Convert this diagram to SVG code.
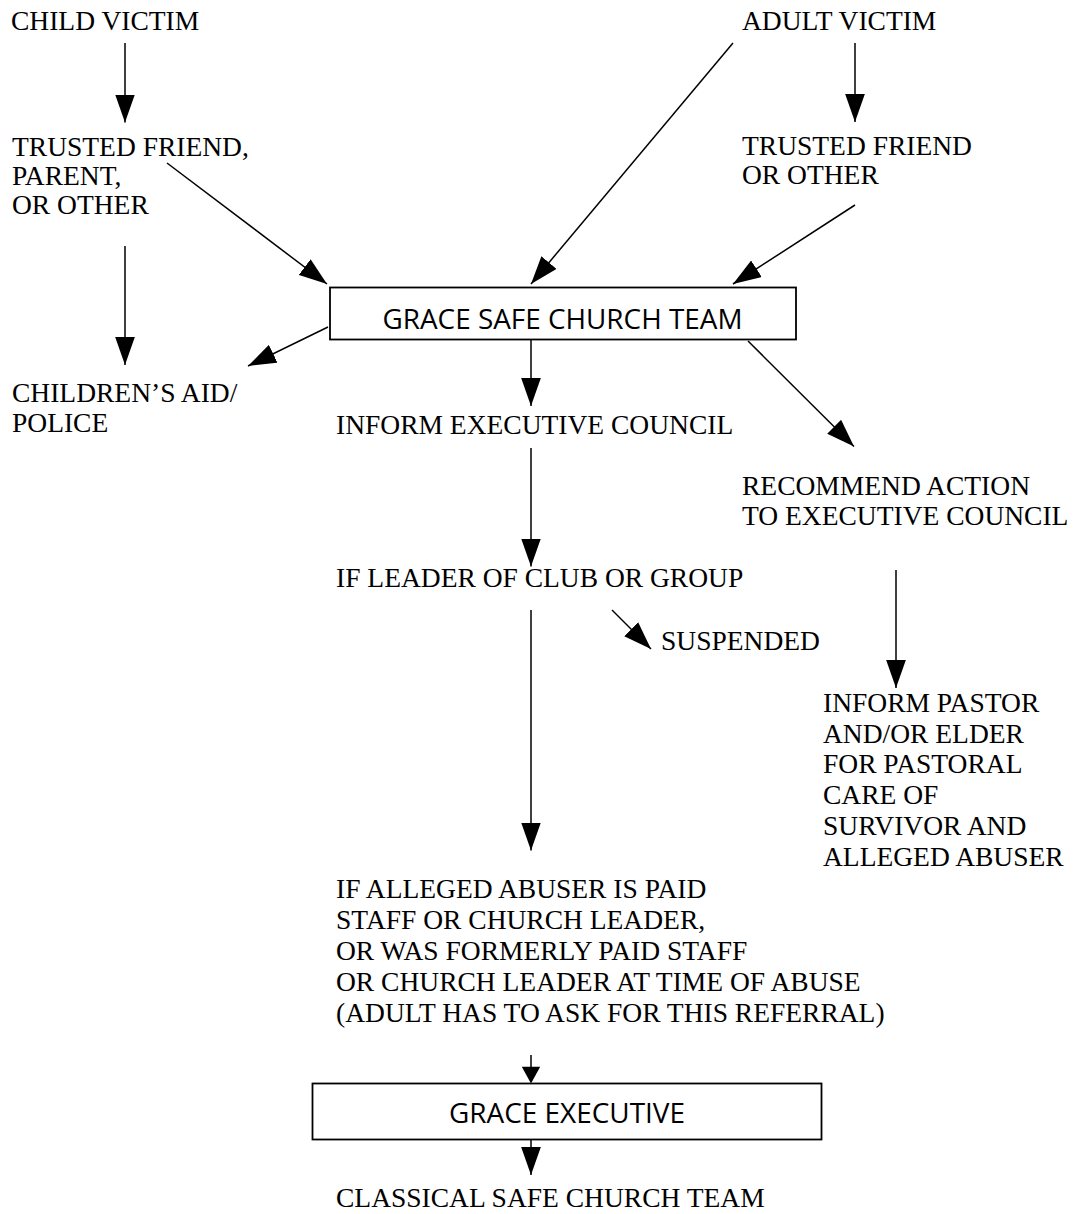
<svg xmlns="http://www.w3.org/2000/svg" width="1073" height="1214" viewBox="0 0 1073 1214">
<style>
  .t { font-family: "Liberation Serif", "Times New Roman", serif; font-size: 27.5px; fill: #000; }
  .s { font-family: "Open Sans", "Noto Sans", "Liberation Sans", sans-serif; font-size: 27.5px; fill: #000; text-anchor: middle; }
  .box { fill: #fff; stroke: #000; stroke-width: 1.8; }
  .ln { stroke: #000; stroke-width: 1.5; fill: none; marker-end: url(#ah); }
  .hd { fill: #000; }
</style>
<defs>
  <marker id="ah" markerUnits="userSpaceOnUse" markerWidth="28" markerHeight="20" viewBox="0 0 27 19" refX="27" refY="9.5" orient="auto">
    <path d="M0,0 L27,9.5 L0,19 z" fill="#000"/>
  </marker>
</defs>
<rect width="1073" height="1214" fill="#fff"/>

<g id="connectors">
  <line class="ln" x1="125" y1="43" x2="125" y2="122.5"/>
  <line class="ln" x1="855" y1="43" x2="855" y2="122"/>
  <line class="ln" x1="733" y1="43" x2="531" y2="284"/>
  <line class="ln" x1="167" y1="163" x2="327" y2="284"/>
  <line class="ln" x1="855" y1="205" x2="733" y2="284"/>
  <line class="ln" x1="125" y1="246" x2="125" y2="365"/>
  <line class="ln" x1="328" y1="327" x2="248" y2="366"/>
  <line class="ln" x1="531" y1="340" x2="531" y2="406"/>
  <line class="ln" x1="748" y1="341" x2="854" y2="446.5"/>
  <line class="ln" x1="531" y1="448" x2="531" y2="566.5"/>
  <line class="ln" x1="612" y1="610" x2="651" y2="649"/>
  <line class="ln" x1="531" y1="610" x2="531" y2="850.5"/>
  <line class="ln" x1="896" y1="570" x2="896" y2="688"/>
  <line stroke="#000" stroke-width="1.5" x1="531" y1="1055" x2="531" y2="1070"/>
  <polygon class="hd" points="521.8,1066.7 540.2,1066.7 531,1083.5"/>
  <line class="ln" x1="531" y1="1139.5" x2="531" y2="1175"/>
</g>

<g id="child-victim"><text class="t" x="11" y="29.5">CHILD VICTIM</text></g>
<g id="adult-victim"><text class="t" x="742" y="29.5">ADULT VICTIM</text></g>
<g id="trusted-friend-child">
  <text class="t" x="12" y="156">TRUSTED FRIEND,</text>
  <text class="t" x="12" y="185">PARENT,</text>
  <text class="t" x="12" y="213.5">OR OTHER</text>
</g>
<g id="trusted-friend-adult">
  <text class="t" x="742" y="154.5">TRUSTED FRIEND</text>
  <text class="t" x="742" y="183.5">OR OTHER</text>
</g>
<g id="grace-safe-church-team">
  <rect class="box" x="330" y="287.5" width="466" height="52"/>
  <text class="s" x="562.5" y="328.5" textLength="360" lengthAdjust="spacingAndGlyphs">GRACE SAFE CHURCH TEAM</text>
</g>
<g id="childrens-aid">
  <text class="t" x="12" y="401.5">CHILDREN’S AID/</text>
  <text class="t" x="12" y="431.5">POLICE</text>
</g>
<g id="inform-executive-council"><text class="t" x="336" y="434">INFORM EXECUTIVE COUNCIL</text></g>
<g id="recommend-action">
  <text class="t" x="742" y="495">RECOMMEND ACTION</text>
  <text class="t" x="742" y="525">TO EXECUTIVE COUNCIL</text>
</g>
<g id="if-leader"><text class="t" x="336" y="586.5">IF LEADER OF CLUB OR GROUP</text></g>
<g id="suspended"><text class="t" x="661" y="649.5">SUSPENDED</text></g>
<g id="inform-pastor">
  <text class="t" x="823" y="711.7">INFORM PASTOR</text>
  <text class="t" x="823" y="742.5">AND/OR ELDER</text>
  <text class="t" x="823" y="773.3">FOR PASTORAL</text>
  <text class="t" x="823" y="804">CARE OF</text>
  <text class="t" x="823" y="835">SURVIVOR AND</text>
  <text class="t" x="823" y="865.7">ALLEGED ABUSER</text>
</g>
<g id="if-alleged-abuser">
  <text class="t" x="336" y="897.7">IF ALLEGED ABUSER IS PAID</text>
  <text class="t" x="336" y="929">STAFF OR CHURCH LEADER,</text>
  <text class="t" x="336" y="960">OR WAS FORMERLY PAID STAFF</text>
  <text class="t" x="336" y="991">OR CHURCH LEADER AT TIME OF ABUSE</text>
  <text class="t" x="336" y="1022.3">(ADULT HAS TO ASK FOR THIS REFERRAL)</text>
</g>
<g id="grace-executive">
  <rect class="box" x="312.5" y="1083.5" width="509" height="56"/>
  <text class="s" x="567" y="1123.3" textLength="236" lengthAdjust="spacingAndGlyphs">GRACE EXECUTIVE</text>
</g>
<g id="classical-safe-church-team"><text class="t" x="336" y="1206.7">CLASSICAL SAFE CHURCH TEAM</text></g>
</svg>
